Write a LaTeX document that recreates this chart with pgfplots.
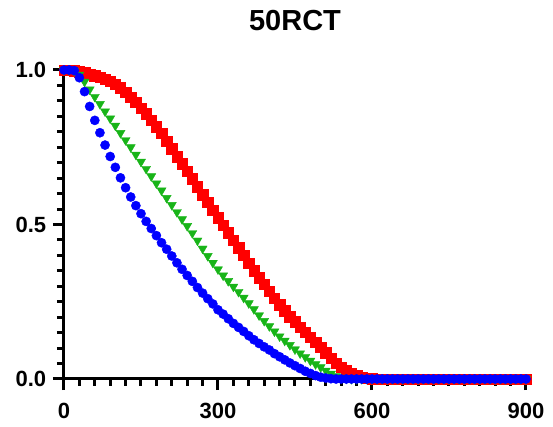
\documentclass[border=0pt]{standalone}
\usepackage{fontspec}
\setmainfont{Liberation Sans}
\usepackage{pgfplots}
\usepackage{pgfplotstable}
\pgfplotsset{compat=1.18}
\definecolor{cred}{RGB}{255,0,0}
\definecolor{cgreen}{RGB}{24,180,24}
\definecolor{cblue}{RGB}{0,0,255}
\pgfplotstableread{
x r g b
0 1.000 1.000 1.000
10 1.000 1.000 1.000
20 0.998 0.997 0.998
30 0.995 0.985 0.975
40 0.991 0.962 0.930
50 0.987 0.937 0.882
60 0.982 0.913 0.837
70 0.977 0.890 0.797
80 0.971 0.866 0.757
90 0.963 0.843 0.720
100 0.954 0.820 0.685
110 0.943 0.796 0.651
120 0.928 0.773 0.619
130 0.912 0.750 0.589
140 0.895 0.726 0.561
150 0.877 0.703 0.535
160 0.858 0.680 0.510
170 0.838 0.656 0.487
180 0.817 0.633 0.464
190 0.795 0.610 0.441
200 0.770 0.586 0.420
210 0.745 0.563 0.398
220 0.720 0.540 0.376
230 0.697 0.517 0.355
240 0.673 0.495 0.335
250 0.648 0.472 0.316
260 0.622 0.448 0.296
270 0.597 0.422 0.278
280 0.572 0.398 0.260
290 0.547 0.376 0.243
300 0.522 0.355 0.224
310 0.498 0.335 0.210
320 0.474 0.317 0.195
330 0.450 0.299 0.180
340 0.425 0.282 0.167
350 0.400 0.263 0.154
360 0.375 0.245 0.140
370 0.351 0.226 0.127
380 0.328 0.206 0.115
390 0.306 0.188 0.104
400 0.284 0.171 0.094
410 0.262 0.154 0.082
420 0.241 0.138 0.072
430 0.221 0.124 0.062
440 0.202 0.110 0.052
450 0.185 0.096 0.043
460 0.168 0.083 0.034
470 0.151 0.071 0.025
480 0.135 0.059 0.018
490 0.119 0.048 0.011
500 0.102 0.038 0.006
510 0.085 0.027 0.003
520 0.068 0.017 0.001
530 0.052 0.009 0.000
540 0.038 0.004 0.000
550 0.027 0.001 0.000
560 0.018 0.000 0.000
570 0.011 0.000 0.000
580 0.006 0.000 0.000
590 0.003 0.000 0.000
600 0.001 0.000 0.000
610 0.000 0.000 0.000
620 0.000 0.000 0.000
630 0.000 0.000 0.000
640 0.000 0.000 0.000
650 0.000 0.000 0.000
660 0.000 0.000 0.000
670 0.000 0.000 0.000
680 0.000 0.000 0.000
690 0.000 0.000 0.000
700 0.000 0.000 0.000
710 0.000 0.000 0.000
720 0.000 0.000 0.000
730 0.000 0.000 0.000
740 0.000 0.000 0.000
750 0.000 0.000 0.000
760 0.000 0.000 0.000
770 0.000 0.000 0.000
780 0.000 0.000 0.000
790 0.000 0.000 0.000
800 0.000 0.000 0.000
810 0.000 0.000 0.000
820 0.000 0.000 0.000
830 0.000 0.000 0.000
840 0.000 0.000 0.000
850 0.000 0.000 0.000
860 0.000 0.000 0.000
870 0.000 0.000 0.000
880 0.000 0.000 0.000
890 0.000 0.000 0.000
900 0.000 0.000 0.000
}\datatable
\begin{document}
\begin{tikzpicture}
\begin{axis}[
  scale only axis,
  width=462pt, height=309pt,
  xmin=0, xmax=900, ymin=0, ymax=1,
  axis lines*=left,
  line width=3pt,
  axis line style={line width=3pt},
  clip=false,
  xtick={0,300,600,900},
  minor x tick num=9,
  ytick={0,0.5,1},
  minor y tick num=9,
  tick align=outside,
  major tick length=11pt,
  minor tick length=7pt,
  tick style={black, line width=3pt},
  tick label style={font=\fontsize{22}{22}\selectfont\bfseries},
  xticklabel style={yshift=-8pt},
  yticklabel style={xshift=-2pt},
  /pgf/number format/assume math mode=true,
  yticklabel style={/pgf/number format/.cd, fixed, fixed zerofill, precision=1},
  title={50RCT},
  title style={font=\fontsize{29}{29}\selectfont\bfseries, yshift=28pt},
]
\addplot[only marks, line width=0.4pt, mark=square*, mark size=5.2pt, color=cred] table[x=x,y=r]{\datatable};
\addplot[only marks, line width=0.4pt, mark=triangle*, mark size=5.2pt, color=cgreen, mark options={rotate=180}] table[x=x,y=g]{\datatable};
\addplot[only marks, line width=0.4pt, mark=*, mark size=4.6pt, color=cblue] table[x=x,y=b]{\datatable};
\end{axis}
\pgfresetboundingbox
\path[use as bounding box] (-64pt,-48pt) rectangle (489pt,379pt);
\end{tikzpicture}
\end{document}
